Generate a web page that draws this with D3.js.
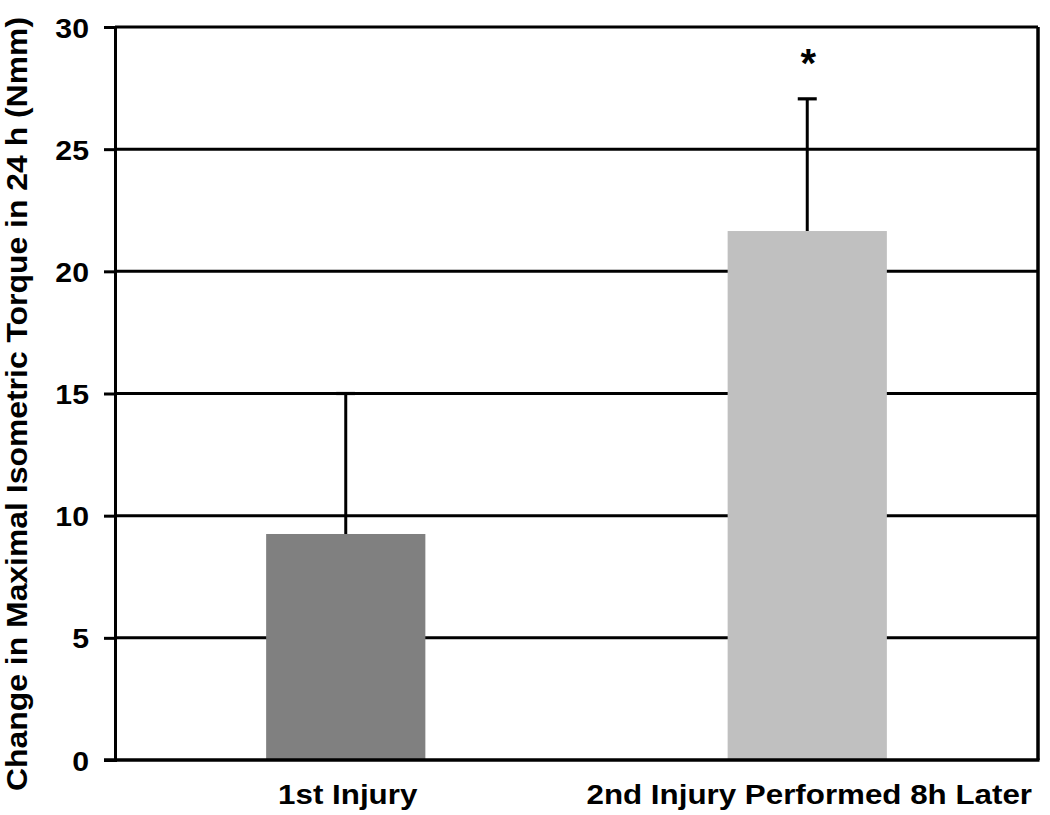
<!DOCTYPE html>
<html>
<head>
<meta charset="utf-8">
<script src="https://cdn.jsdelivr.net/npm/d3@7"></script>
<style>
  body { margin: 0; background: #fff; }
  text { font-family: "Liberation Sans", Arial, sans-serif; font-weight: bold; fill: #000; }
</style>
</head>
<body>
<div id="chart"></div>
<script>
// data
var categories = ["1st Injury", "2nd Injury Performed 8h Later"];
var means = [9.25, 21.65];
var errors = [5.75, 5.41];
var marks = ["", "*"];
var barColors = ["#808080", "#c0c0c0"];
var yTicks = [0, 5, 10, 15, 20, 25, 30];

var width = 1050, height = 815;
var margin = { top: 27, left: 115, right: 12, bottom: 55 };

var svg = d3.select("#chart")
    .append("svg")
    .attr("width", width)
    .attr("height", height);

var x = d3.scaleBand()
    .domain(categories)
    .range([margin.left, width - margin.right])
    .paddingInner(0.655)
    .paddingOuter(0.3275);

var y = d3.scaleLinear()
    .domain([0, 30])
    .range([height - margin.bottom, margin.top]);

// stretch text horizontally a bit, the original is squashed/wide
function stretch(sel, k) {
    sel.each(function() {
        var w = this.getComputedTextLength();
        d3.select(this)
            .attr("textLength", w * k)
            .attr("lengthAdjust", "spacingAndGlyphs");
    });
}

// gridlines
svg.append("g")
    .selectAll("line")
    .data(yTicks.filter(function(d) { return d > 0; }))
    .enter()
    .append("line")
    .attr("x1", margin.left)
    .attr("x2", width - margin.right)
    .attr("y1", function(d) { return y(d); })
    .attr("y2", function(d) { return y(d); })
    .style("stroke", "#000")
    .style("stroke-width", 3);

// bars
svg.append("g")
    .selectAll("rect")
    .data(categories)
    .enter()
    .append("rect")
    .attr("x", function(d) { return x(d); })
    .attr("width", x.bandwidth())
    .attr("y", function(d, i) { return y(means[i]); })
    .attr("height", function(d, i) { return y(0) - y(means[i]); })
    .style("fill", function(d, i) { return barColors[i]; });

// error bars (upper only)
var err = svg.append("g")
    .selectAll("g")
    .data(categories)
    .enter()
    .append("g");

err.append("line")
    .attr("x1", function(d) { return x(d) + x.bandwidth() / 2; })
    .attr("x2", function(d) { return x(d) + x.bandwidth() / 2; })
    .attr("y1", function(d, i) { return y(means[i]); })
    .attr("y2", function(d, i) { return y(means[i] + errors[i]); })
    .style("stroke", "#000")
    .style("stroke-width", 3);

err.append("line")
    .attr("x1", function(d) { return x(d) + x.bandwidth() / 2 - 9.5; })
    .attr("x2", function(d) { return x(d) + x.bandwidth() / 2 + 9.5; })
    .attr("y1", function(d, i) { return y(means[i] + errors[i]); })
    .attr("y2", function(d, i) { return y(means[i] + errors[i]); })
    .style("stroke", "#000")
    .style("stroke-width", 3.2);

err.append("text")
    .attr("x", function(d) { return x(d) + x.bandwidth() / 2 + 1; })
    .attr("y", function(d, i) { return y(means[i] + errors[i]) - 22; })
    .attr("text-anchor", "middle")
    .style("font-size", "40px")
    .text(function(d, i) { return marks[i]; });

// left axis
var yAxis = svg.append("g")
    .attr("transform", "translate(" + margin.left + ",0)")
    .call(d3.axisLeft(y).tickValues(yTicks).tickSize(11).tickPadding(15));

yAxis.select(".domain").style("stroke-width", 3);
yAxis.selectAll(".tick line").style("stroke-width", 3);
yAxis.selectAll(".tick text")
    .attr("font-family", null)
    .style("font-size", "28px")
    .attr("dy", "0.36em")
    .call(stretch, 1.08);

// frame: right edge and bottom axis
svg.append("line")
    .attr("x1", width - margin.right)
    .attr("x2", width - margin.right)
    .attr("y1", y(30))
    .attr("y2", y(0))
    .style("stroke", "#000")
    .style("stroke-width", 3.5);

svg.append("line")
    .attr("x1", margin.left - 11)
    .attr("x2", width - margin.right + 1.5)
    .attr("y1", y(0))
    .attr("y2", y(0))
    .style("stroke", "#000")
    .style("stroke-width", 3.5);

// category labels
svg.append("g")
    .selectAll("text")
    .data(categories)
    .enter()
    .append("text")
    .attr("x", function(d) { return x(d) + x.bandwidth() / 2 + 2; })
    .attr("y", 804)
    .attr("text-anchor", "middle")
    .style("font-size", "27px")
    .text(function(d) { return d; })
    .call(stretch, 1.16);

// y title
svg.append("text")
    .attr("transform", "translate(27," + 404 + ") rotate(-90)")
    .attr("text-anchor", "middle")
    .style("font-size", "29px")
    .text("Change in Maximal Isometric Torque in 24 h (Nmm)")
    .call(stretch, 1.1);
</script>
</body>
</html>
